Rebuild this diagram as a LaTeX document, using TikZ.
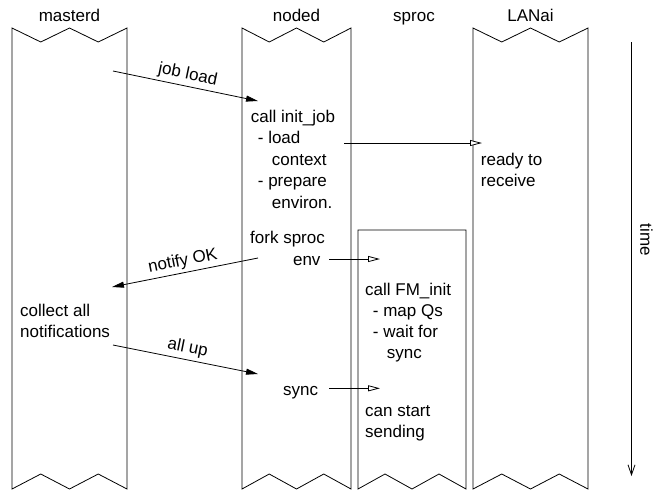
\documentclass[tikz,border=0pt]{standalone}
\usepackage{fontspec}
\setmainfont{Liberation Sans}
\usetikzlibrary{arrows.meta}
\tikzset{
  txt/.style={inner sep=0pt, anchor=base west, font=\fontsize{17}{21.5}\selectfont},
  title/.style={inner sep=0pt, anchor=base, font=\fontsize{17}{21.5}\selectfont},
  lane/.style={draw=black, line width=0.8pt, line join=miter},
  fillarrow/.style={draw=black, line width=0.8pt, -{Triangle[length=12pt, width=6pt]}},
  openarrow/.style={draw=black, line width=0.8pt, -{Triangle[open, length=12pt, width=6pt, fill=white]}},
  timearrow/.style={draw=black, line width=0.8pt, -{Straight Barb[length=10pt, width=7pt]}},
  lbl/.style={midway, sloped, above=2pt, inner sep=1pt, font=\fontsize{17}{21.5}\selectfont}
}
\begin{document}
\begin{tikzpicture}[x=1pt, y=-1pt]
\useasboundingbox (0,0) rectangle (661,491);

% columns
\draw[lane] (12,28) -- (40.75,42) -- (69.5,28) -- (98.25,42) -- (127,28)
  -- (127,489) -- (98.25,474) -- (69.5,489) -- (40.75,474) -- (12,489) -- cycle;
\draw[lane] (242,28) -- (269.25,42) -- (296.5,28) -- (323.75,42) -- (351,28)
  -- (351,489) -- (323.75,474) -- (296.5,489) -- (269.25,474) -- (242,489) -- cycle;
\draw[lane] (358,230) -- (466,230)
  -- (466,489) -- (439,474) -- (412,489) -- (385,474) -- (358,489) -- cycle;
\draw[lane] (473,28) -- (501.75,42) -- (530.5,28) -- (559.25,42) -- (588,28)
  -- (588,489) -- (559.25,474) -- (530.5,489) -- (501.75,474) -- (473,489) -- cycle;

% titles
\node[title] (tmasterd) at (69.5,21) {masterd};
\node[title] (tnoded) at (296.5,21) {noded};
\node[title] (tsproc) at (414,21) {sproc};
\node[title] (tlanai) at (530.5,21) {LANai};

% noded texts
\node[txt] (n1) at (250.7,122.3) {call init\_job};
\node[txt] (n2) at (257.7,143.8) {- load};
\node[txt] (n3) at (271.7,165.3) {context};
\node[txt] (n4) at (257.7,186.8) {- prepare};
\node[txt] (n5) at (271.7,208.3) {environ.};
\node[txt] (n6) at (250,243.3) {fork sproc};
\node[txt, anchor=base east] (n7) at (320.7,265) {env};
\node[txt] (n8) at (283,395) {sync};

% LANai texts
\node[txt] (l1) at (480.7,165.3) {ready to};
\node[txt] (l2) at (480.7,186.8) {receive};

% sproc texts
\node[txt] (s1) at (365,295) {call FM\_init};
\node[txt] (s2) at (372.7,316) {- map Qs};
\node[txt] (s3) at (372.7,337) {- wait for};
\node[txt] (s4) at (386.7,358) {sync};
\node[txt] (s5) at (365,416.7) {can start};
\node[txt] (s6) at (365,437.7) {sending};

% masterd texts
\node[txt] (m1) at (20,316) {collect all};
\node[txt] (m2) at (20,337.7) {notifications};

% connector end points
\coordinate (jls) at (113,71);
\coordinate (jle) at (258,101);
\coordinate (nos) at (258,258);
\coordinate (noe) at (112,287);
\coordinate (aus) at (113,345);
\coordinate (aue) at (258,374);
\coordinate (ins) at (344,143);
\coordinate (ine) at (482,143);
\coordinate (evs) at (329,259);
\coordinate (eve) at (380,259);
\coordinate (sys) at (329,388.3);
\coordinate (sye) at (380,388.3);
\coordinate (t0) at (631.5,42);
\coordinate (t1) at (631.5,476);

% messages
\draw[fillarrow] (jls) -- node[lbl] (ljob) {job load} (jle);
\draw[fillarrow] (nos) -- node[lbl, sloped] (lnot) {notify OK} (noe);
\draw[fillarrow] (aus) -- node[lbl] (lall) {all up} (aue);
\draw[openarrow] (ins) -- (ine);
\draw[openarrow] (evs) -- (eve);
\draw[openarrow] (sys) -- (sye);

% time axis
\draw[timearrow] (t0) -- (t1);
\node[inner sep=0pt, rotate=-90, font=\fontsize{17}{21.5}\selectfont] (time) at (646.5,240) {time};
\end{tikzpicture}
\end{document}
